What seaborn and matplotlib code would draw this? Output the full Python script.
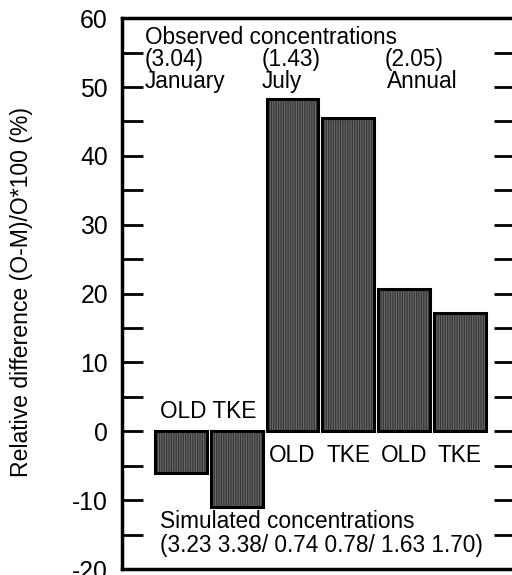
import pandas as pd
import matplotlib
matplotlib.use('Agg')
import matplotlib.pyplot as plt
import seaborn as sns

# Dados
grupos = ['Jan OLD', 'Jan TKE', 'Jul OLD', 'Jul TKE', 'Ann OLD', 'Ann TKE']
diferenca = [-6.1, -11.0, 48.2, 45.5, 20.6, 17.2]
esquemas = ['OLD', 'TKE', 'OLD', 'TKE', 'OLD', 'TKE']
periodos = ['January', 'July', 'Annual']
observado = ['(3.04)', '(1.43)', '(2.05)']
simulado = '(3.23 3.38/ 0.74 0.78/ 1.63 1.70)'

df = pd.DataFrame({'Grupo': grupos, 'Diferenca': diferenca})

sns.set_style('ticks')
plt.rcParams['font.family'] = ['Liberation Sans', 'DejaVu Sans']
plt.rcParams['hatch.linewidth'] = 0.8
plt.rcParams['axes.unicode_minus'] = False
plt.rcParams['text.color'] = 'black'
plt.rcParams['axes.labelcolor'] = 'black'
plt.rcParams['axes.edgecolor'] = 'black'
plt.rcParams['ytick.color'] = 'black'
plt.rcParams['xtick.color'] = 'black'
FS = 16.3

fig = plt.figure(figsize=(5.12, 5.75), dpi=100)
ax = fig.add_axes([0.238, 0.0104, 0.768, 0.958])

# barras com riscas verticais
sns.barplot(x='Grupo', y='Diferenca', data=df, order=grupos, color='#363636',
            saturation=1, width=0.93, edgecolor='#6a6a6a', linewidth=0,
            hatch='|' * 7, ax=ax)
# contorno preto por cima
sns.barplot(x='Grupo', y='Diferenca', data=df, order=grupos, color='black',
            fill=False, width=0.93, linewidth=2.2, ax=ax)

ax.set_xlim(-1.06, 5.99)
ax.set_ylim(-20, 60)
ax.set_yticks(range(-20, 61, 10))
ax.set_yticks(range(-15, 60, 10), minor=True)
ax.set_xticks([])
ax.set_xlabel('')
ax.set_ylabel('Relative difference (O-M)/O*100 (%)', fontsize=16.6)
ax.yaxis.set_label_coords(-0.226, 0.503)
ax.tick_params(axis='y', which='both', direction='in', length=15, width=2,
               right=True, labelsize=17.8, pad=10)
for s in ax.spines.values():
    s.set_linewidth(2.5)

# textos
ax.text(-0.645, 56.25, 'Observed concentrations', fontsize=FS, va='baseline')
for xi, ob, per in zip([-0.645, 1.45, 3.66], observado, periodos):
    ax.text(xi, 53.05, ob, fontsize=FS, va='baseline')
    ax.text(xi + (0.04 if per == 'Annual' else 0), 49.85, per, fontsize=FS, va='baseline')

ax.text(-0.376, 1.9, 'OLD TKE', fontsize=FS, va='baseline')
for i in range(2, 6):
    ax.text(i, -4.5, esquemas[i], fontsize=FS, ha='center', va='baseline')

ax.text(-0.376, -14.1, 'Simulated concentrations', fontsize=FS, va='baseline')
ax.text(-0.376, -17.6, simulado, fontsize=FS, va='baseline')

plt.savefig('out.png', dpi=100)
plt.close()
